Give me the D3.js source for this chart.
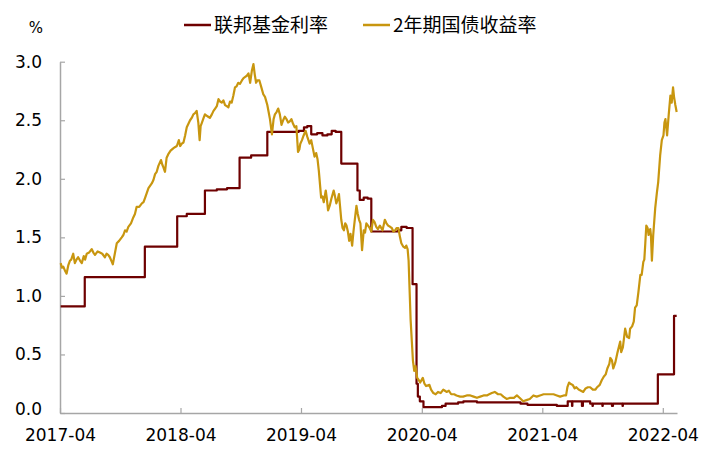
<!DOCTYPE html>
<html><head><meta charset="utf-8">
<script src="https://cdn.jsdelivr.net/npm/d3@7"></script>
<style>
html,body{margin:0;padding:0;background:#fff;}
svg{display:block;}
</style></head>
<body>
<svg id="chart" width="713" height="459"></svg>
<script>
const seriesNames = ["联邦基金利率", "2年期国债收益率"];
const seriesColors = ["#6e0000", "#c8960f"];
const yTicks = [0, 0.5, 1.0, 1.5, 2.0, 2.5, 3.0];
const xTickLabels = ["2017-04", "2018-04", "2019-04", "2020-04", "2021-04", "2022-04"];
const unitLabel = "%";

const fedFunds = [
["2017-04-03",0.91],["2017-06-15",1.16],["2017-12-14",1.42],["2018-03-22",1.68],["2018-04-20",1.70],
["2018-06-14",1.90],["2018-07-20",1.91],["2018-08-20",1.92],["2018-09-27",2.18],["2018-11-01",2.20],
["2018-12-20",2.40],["2019-03-25",2.41],["2019-04-10",2.44],["2019-04-20",2.45],["2019-05-02",2.38],
["2019-05-20",2.39],["2019-06-05",2.37],["2019-06-20",2.38],["2019-07-03",2.41],["2019-07-15",2.40],
["2019-08-01",2.13],["2019-09-19",1.90],["2019-09-26",1.82],["2019-10-08",1.84],["2019-10-20",1.83],
["2019-10-31",1.55],["2020-01-20",1.56],["2020-01-30",1.59],["2020-02-15",1.58],["2020-03-04",1.10],
["2020-03-16",0.25],["2020-03-20",0.14],["2020-03-26",0.10],["2020-04-06",0.05],["2020-06-01",0.06],
["2020-06-12",0.08],["2020-07-20",0.09],["2020-08-05",0.10],["2020-09-15",0.09],["2021-01-25",0.08],
["2021-02-15",0.07],["2021-05-15",0.06],["2021-06-17",0.10],["2021-06-30",0.06],["2021-07-01",0.10],
["2021-07-30",0.06],["2021-08-02",0.10],["2021-08-24",0.08],["2021-08-31",0.06],["2021-09-01",0.08],
["2021-09-30",0.06],["2021-10-01",0.08],["2021-10-29",0.06],["2021-11-01",0.08],["2021-11-30",0.06],
["2021-12-01",0.08],["2022-03-17",0.33],["2022-05-05",0.83],["2022-05-13",0.83]
];

const treasury2y = [
["2017-04-03",1.28],["2017-04-07",1.24],["2017-04-11",1.25],["2017-04-17",1.21],["2017-04-21",1.19],
["2017-04-26",1.26],["2017-05-01",1.30],["2017-05-05",1.31],["2017-05-11",1.36],["2017-05-16",1.28],
["2017-05-21",1.31],["2017-05-26",1.33],["2017-06-01",1.30],["2017-06-06",1.28],["2017-06-12",1.34],
["2017-06-16",1.31],["2017-06-21",1.36],["2017-06-28",1.37],["2017-07-06",1.40],["2017-07-11",1.37],
["2017-07-16",1.35],["2017-07-24",1.38],["2017-07-31",1.37],["2017-08-07",1.36],["2017-08-15",1.33],
["2017-08-20",1.36],["2017-08-25",1.35],["2017-08-30",1.33],["2017-09-05",1.29],["2017-09-08",1.27],
["2017-09-14",1.36],["2017-09-20",1.45],["2017-09-27",1.47],["2017-10-05",1.50],["2017-10-10",1.52],
["2017-10-15",1.56],["2017-10-20",1.55],["2017-10-25",1.59],["2017-11-02",1.62],["2017-11-09",1.67],
["2017-11-14",1.70],["2017-11-19",1.76],["2017-11-27",1.76],["2017-12-05",1.79],["2017-12-10",1.80],
["2017-12-15",1.84],["2017-12-20",1.88],["2017-12-25",1.92],["2018-01-04",1.96],["2018-01-09",1.99],
["2018-01-14",2.04],["2018-01-19",2.06],["2018-01-24",2.11],["2018-02-01",2.16],["2018-02-05",2.12],
["2018-02-08",2.10],["2018-02-13",2.06],["2018-02-18",2.18],["2018-02-23",2.21],["2018-03-02",2.24],
["2018-03-10",2.26],["2018-03-15",2.27],["2018-03-21",2.28],["2018-03-27",2.33],["2018-03-31",2.28],
["2018-04-05",2.30],["2018-04-10",2.31],["2018-04-15",2.37],["2018-04-20",2.44],["2018-04-25",2.47],
["2018-04-30",2.50],["2018-05-05",2.52],["2018-05-10",2.55],["2018-05-15",2.56],["2018-05-20",2.58],
["2018-05-25",2.48],["2018-05-29",2.33],["2018-06-01",2.45],["2018-06-05",2.48],["2018-06-10",2.52],
["2018-06-14",2.55],["2018-06-19",2.54],["2018-06-24",2.53],["2018-06-29",2.52],["2018-07-05",2.55],
["2018-07-10",2.58],["2018-07-15",2.60],["2018-07-20",2.62],["2018-07-25",2.68],["2018-07-30",2.66],
["2018-08-04",2.65],["2018-08-09",2.67],["2018-08-14",2.63],["2018-08-19",2.62],["2018-08-24",2.61],
["2018-08-29",2.66],["2018-09-03",2.65],["2018-09-08",2.71],["2018-09-13",2.78],["2018-09-18",2.79],
["2018-09-23",2.82],["2018-09-28",2.81],["2018-10-04",2.84],["2018-10-09",2.86],["2018-10-14",2.87],
["2018-10-19",2.88],["2018-10-24",2.90],["2018-10-29",2.82],["2018-11-03",2.92],["2018-11-08",2.98],
["2018-11-12",2.89],["2018-11-16",2.82],["2018-11-20",2.84],["2018-11-26",2.84],["2018-12-03",2.77],
["2018-12-08",2.72],["2018-12-13",2.70],["2018-12-20",2.63],["2018-12-24",2.57],["2018-12-28",2.51],
["2019-01-03",2.38],["2019-01-08",2.51],["2019-01-12",2.55],["2019-01-17",2.57],["2019-01-22",2.60],
["2019-01-27",2.55],["2019-02-01",2.46],["2019-02-06",2.50],["2019-02-11",2.53],["2019-02-16",2.51],
["2019-02-21",2.48],["2019-02-26",2.49],["2019-03-03",2.51],["2019-03-08",2.47],["2019-03-13",2.44],
["2019-03-18",2.45],["2019-03-23",2.23],["2019-03-27",2.25],["2019-03-30",2.30],["2019-04-04",2.33],
["2019-04-09",2.37],["2019-04-15",2.41],["2019-04-20",2.36],["2019-04-27",2.30],["2019-05-02",2.33],
["2019-05-07",2.26],["2019-05-12",2.19],["2019-05-17",2.22],["2019-05-21",2.17],["2019-05-25",2.07],
["2019-06-01",1.84],["2019-06-05",1.85],["2019-06-09",1.80],["2019-06-15",1.90],["2019-06-18",1.84],
["2019-06-22",1.73],["2019-06-27",1.77],["2019-07-02",1.83],["2019-07-09",1.90],["2019-07-13",1.85],
["2019-07-17",1.79],["2019-07-21",1.82],["2019-07-25",1.87],["2019-08-01",1.65],["2019-08-05",1.58],
["2019-08-09",1.56],["2019-08-13",1.62],["2019-08-17",1.60],["2019-08-21",1.55],["2019-08-25",1.47],
["2019-08-29",1.53],["2019-09-03",1.43],["2019-09-07",1.55],["2019-09-11",1.65],["2019-09-16",1.77],
["2019-09-20",1.70],["2019-09-24",1.65],["2019-09-28",1.62],["2019-10-03",1.39],["2019-10-08",1.56],
["2019-10-12",1.54],["2019-10-16",1.62],["2019-10-21",1.60],["2019-10-26",1.58],["2019-10-31",1.55],
["2019-11-05",1.65],["2019-11-10",1.63],["2019-11-15",1.59],["2019-11-20",1.57],["2019-11-26",1.60],
["2019-12-04",1.56],["2019-12-11",1.65],["2019-12-16",1.62],["2019-12-21",1.60],["2019-12-27",1.59],
["2020-01-01",1.58],["2020-01-06",1.55],["2020-01-11",1.56],["2020-01-16",1.58],["2020-01-21",1.58],
["2020-01-26",1.50],["2020-01-30",1.45],["2020-02-05",1.42],["2020-02-10",1.41],["2020-02-14",1.43],
["2020-02-18",1.40],["2020-02-21",1.30],["2020-02-24",1.05],["2020-02-27",0.80],["2020-03-02",0.60],
["2020-03-05",0.45],["2020-03-09",0.36],["2020-03-13",0.40],["2020-03-18",0.30],["2020-03-23",0.28],
["2020-03-27",0.26],["2020-04-04",0.30],["2020-04-09",0.25],["2020-04-14",0.23],["2020-04-24",0.24],
["2020-04-29",0.20],["2020-05-06",0.17],["2020-05-13",0.16],["2020-05-20",0.18],["2020-05-28",0.17],
["2020-06-05",0.20],["2020-06-10",0.19],["2020-06-15",0.18],["2020-06-22",0.19],["2020-06-29",0.16],
["2020-07-08",0.16],["2020-07-15",0.15],["2020-07-26",0.14],["2020-08-04",0.14],["2020-08-15",0.15],
["2020-08-26",0.15],["2020-09-05",0.14],["2020-09-15",0.13],["2020-09-25",0.14],["2020-10-05",0.15],
["2020-10-15",0.15],["2020-10-22",0.16],["2020-10-30",0.17],["2020-11-08",0.18],["2020-11-18",0.16],
["2020-11-26",0.16],["2020-12-04",0.14],["2020-12-14",0.12],["2020-12-25",0.13],["2021-01-05",0.13],
["2021-01-14",0.15],["2021-01-22",0.13],["2021-02-02",0.10],["2021-02-12",0.11],["2021-02-22",0.12],
["2021-03-05",0.15],["2021-03-15",0.14],["2021-03-25",0.15],["2021-04-05",0.16],["2021-04-15",0.16],
["2021-04-25",0.16],["2021-05-05",0.16],["2021-05-15",0.15],["2021-05-25",0.14],["2021-06-05",0.15],
["2021-06-12",0.15],["2021-06-16",0.22],["2021-06-21",0.26],["2021-06-25",0.25],["2021-07-02",0.24],
["2021-07-08",0.21],["2021-07-13",0.22],["2021-07-20",0.20],["2021-07-27",0.19],["2021-08-03",0.18],
["2021-08-10",0.21],["2021-08-17",0.22],["2021-08-24",0.22],["2021-09-01",0.20],["2021-09-09",0.20],
["2021-09-14",0.22],["2021-09-22",0.24],["2021-09-28",0.28],["2021-10-04",0.31],["2021-10-10",0.33],
["2021-10-15",0.38],["2021-10-21",0.42],["2021-10-24",0.47],["2021-10-29",0.45],["2021-11-02",0.38],
["2021-11-08",0.43],["2021-11-15",0.52],["2021-11-23",0.61],["2021-11-26",0.52],["2021-12-01",0.56],
["2021-12-08",0.72],["2021-12-14",0.65],["2021-12-20",0.64],["2021-12-23",0.72],["2021-12-29",0.74],
["2022-01-03",0.78],["2022-01-07",0.90],["2022-01-12",0.92],["2022-01-17",1.03],["2022-01-23",1.18],
["2022-01-27",1.18],["2022-02-01",1.29],["2022-02-04",1.31],["2022-02-07",1.45],["2022-02-10",1.60],
["2022-02-14",1.58],["2022-02-17",1.52],["2022-02-22",1.57],["2022-02-24",1.52],["2022-02-27",1.30],
["2022-03-03",1.52],["2022-03-09",1.75],["2022-03-14",1.88],["2022-03-18",1.97],["2022-03-24",2.20],
["2022-03-29",2.33],["2022-04-03",2.37],["2022-04-06",2.48],["2022-04-09",2.51],["2022-04-14",2.37],
["2022-04-19",2.55],["2022-04-24",2.71],["2022-04-28",2.65],["2022-05-02",2.78],["2022-05-05",2.70],
["2022-05-09",2.63],["2022-05-13",2.57]
];

const parse = d3.timeParse("%Y-%m-%d");
const parseTick = d3.timeParse("%Y-%m");
const svg = d3.select("#chart");
const font = "'DejaVu Sans', sans-serif";

const x = d3.scaleTime()
  .domain([parse("2017-04-01"), parse("2022-05-14")])
  .range([60, 677]);
const y = d3.scaleLinear().domain([0, 3]).range([413, 61.7]);

// axes
const xAxis = d3.axisBottom(x)
  .tickValues(xTickLabels.map(parseTick))
  .tickFormat(d3.timeFormat("%Y-%m"))
  .tickSizeInner(-5).tickSizeOuter(0).tickPadding(16);
const gx = svg.append("g").attr("transform", "translate(0,413)").call(xAxis);

const yAxis = d3.axisLeft(y)
  .tickValues(yTicks)
  .tickFormat(d3.format(".1f"))
  .tickSizeInner(-5).tickSizeOuter(0).tickPadding(18);
const gy = svg.append("g").attr("transform", "translate(60,0)").call(yAxis);

[gx, gy].forEach(g => {
  g.select(".domain").attr("stroke", "#a6a6a6").attr("stroke-width", 1.5);
  g.selectAll(".tick line").attr("stroke", "#a6a6a6").attr("stroke-width", 1.2);
  g.selectAll(".tick text").attr("fill", "#000").style("font-family", font).style("font-size", "17px");
});
// lowest y label sits slightly above the x axis line
gy.selectAll(".tick").filter(d => d === 0).select("text").attr("dy", "0.1em");

// lines
const lineStep = d3.line().x(d => x(parse(d[0]))).y(d => y(d[1])).curve(d3.curveStepAfter);
const lineLin = d3.line().x(d => x(parse(d[0]))).y(d => y(d[1]));

svg.append("path").datum(fedFunds)
  .attr("d", lineStep).attr("fill", "none")
  .attr("stroke", seriesColors[0]).attr("stroke-width", 2.2).attr("stroke-linejoin", "round");

svg.append("path").datum(treasury2y)
  .attr("d", lineLin).attr("fill", "none")
  .attr("stroke", seriesColors[1]).attr("stroke-width", 2.2).attr("stroke-linejoin", "round");

// unit label
svg.append("text").attr("x", 36).attr("y", 33).attr("text-anchor", "middle")
  .style("font-family", font).style("font-size", "15px").text(unitLabel);

// legend
const legendX = [184, 363];
seriesNames.forEach((name, i) => {
  const lx = legendX[i];
  svg.append("line").attr("x1", lx).attr("x2", lx + 27).attr("y1", 25).attr("y2", 25)
    .attr("stroke", seriesColors[i]).attr("stroke-width", 2.5);
  svg.append("text").attr("x", lx + 30).attr("y", 32)
    .style("font-family", "'Noto Sans CJK SC', sans-serif").style("font-size", "19px")
    .attr("fill", "#000").text(name);
});
</script>
</body></html>
